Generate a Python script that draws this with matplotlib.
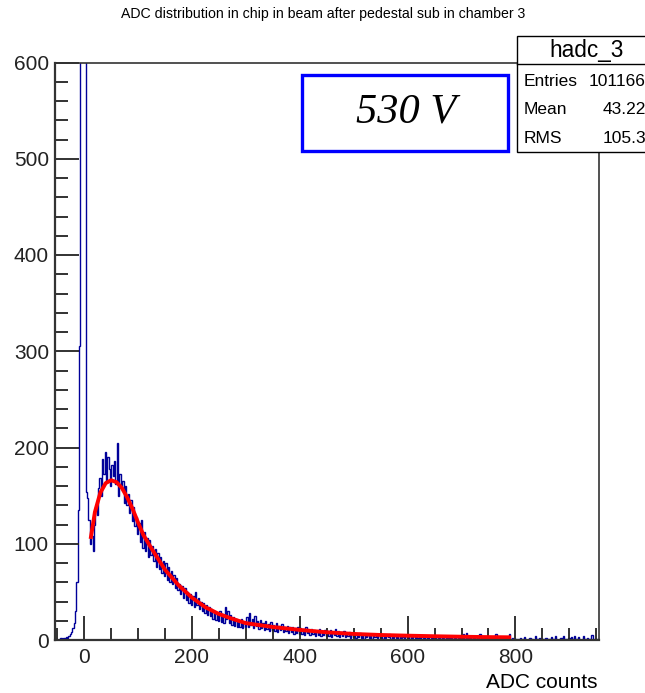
import numpy as np
import matplotlib
matplotlib.use("Agg")
import matplotlib.pyplot as plt
from matplotlib.patches import Rectangle
from matplotlib.lines import Line2D
from matplotlib.ticker import MultipleLocator

# ---- histogram: ADC counts, 2.5-count wide bins starting at -57 ----
bin_start = -57
bin_width = 2.5

# -57 .. 3 : below pedestal and the pedestal peak itself
counts_pedestal = [
    0, 0, 1, 0, 1, 2, 1, 2, 2, 3, 2, 4,
    6, 8, 12, 18,
    30, 60, 135, 305,
    8000, 30000, 30000, 9000,
]
# 3 .. 300.5 : signal peak
counts_signal = [
    154, 148, 125, 100, 108, 92, 120, 138, 130, 158,
    168, 150, 188, 172, 195, 165, 190, 178, 160, 182,
    170, 186, 162, 205, 150, 172, 158, 165, 142, 160,
    140, 152, 132, 145, 124, 138, 118, 128, 110, 122,
    102, 125, 96, 112, 92, 106, 86, 104, 88, 98,
    82, 95, 76, 90, 74, 86, 70, 82, 66, 80,
    62, 76, 60, 72, 58, 68, 54, 64, 52, 58,
    48, 56, 44, 54, 42, 50, 38, 48, 36, 46,
    34, 50, 36, 44, 32, 40, 30, 38, 28, 36,
    26, 34, 25, 32, 22, 30, 21, 28, 20, 30,
    19, 27, 18, 34, 22, 30, 18, 26, 16, 24,
    15, 22, 14, 20, 13, 22, 12, 19, 13,
]
# 300.5 .. 958 : tail
counts_tail = [
    24, 14, 28, 16, 22, 12, 25, 15, 20, 11,
    21, 12, 18, 10, 20, 11, 17, 9, 19, 10,
    16, 9, 18, 8, 15, 10, 17, 8, 14, 9,
    15, 7, 13, 8, 14, 6, 12, 7, 13, 6,
    12, 6, 11, 5, 13, 7, 10, 5, 11, 6,
    10, 4, 9, 5, 11, 4, 8, 5, 10, 4,
    9, 4, 10, 3, 8, 5, 11, 4, 9, 3,
    8, 4, 9, 3, 7, 4, 8, 2, 7, 3,
    6, 2, 5, 3, 7, 2, 5, 1, 6, 3,
    5, 2, 6, 1, 4, 3, 5, 2, 6, 2,
    4, 1, 5, 2, 4, 3, 6, 1, 4, 2,
    5, 2, 4, 1, 5, 2, 3, 1, 4, 2,
    4, 1, 3, 2, 5, 1, 3, 2, 4, 1,
    3, 2, 4, 1, 3, 1, 4, 2, 3, 1,
    3, 1, 2, 4, 1, 3, 2, 1, 3, 2,
    2, 1, 3, 1, 2, 4, 1, 2, 3, 1,
    2, 6, 1, 7, 2, 1, 3, 1, 2, 1,
    3, 1, 2, 6, 1, 2, 1, 3, 1, 2,
    1, 2, 1, 3, 1, 6, 1, 2, 1, 1,
    2, 1, 3, 1, 1, 6, 1, 2, 1, 1,
    1, 0, 1, 2, 1, 1, 3, 1, 0, 1,
    2, 1, 1, 0, 4, 1, 1, 2, 1, 1,
    1, 0, 2, 1, 1, 1, 3, 1, 1, 4,
    1, 0, 1, 2, 1, 4, 1, 1, 0, 2,
    1, 3, 1, 4, 1, 1, 3, 1, 0, 1,
    4, 1, 1, 2, 1, 1, 5, 1, 0, 1,
    1, 0, 0,
]

# ---- Landau fit curve (sampled) ----
fit_x = [12, 20, 30, 40, 50, 60, 70, 80, 90, 100, 110, 125, 150, 175,
         200, 225, 250, 275, 300, 350, 400, 450, 500, 550, 600, 650,
         700, 750, 792]
fit_y = [105, 133, 153, 163, 166, 164, 158, 148, 136, 122, 109, 95, 73, 57,
         44, 34, 27, 22, 17.5, 13.5, 10.5, 8, 6.3, 5.2, 4.5, 3.9,
         3.4, 3.0, 2.8]

title = "ADC distribution in chip in beam after pedestal sub in chamber 3"
x_label = "ADC counts"
hist_name = "hadc_3"
stat_names = ["Entries", "Mean", "RMS"]
stat_values = ["101166", "43.22", "105.3"]
voltage_label = "530 V"

W, H = 645, 693
fig = plt.figure(figsize=(W / 100, H / 100), dpi=100)
plt.rcParams["font.family"] = ["Liberation Sans", "DejaVu Sans"]


def fx(px):
    return px / W


def fy(py):
    return 1 - py / H


ax = fig.add_axes([fx(54.5), fy(640), fx(599) - fx(54.5), fy(62.5) - fy(640)])

counts = counts_pedestal + counts_signal + counts_tail
edges = bin_start + bin_width * np.arange(len(counts) + 1)
ax.stairs(counts, edges, color="#000099", lw=1.0)
ax.plot(fit_x, fit_y, color="#ff0000", lw=2.8, solid_capstyle="butt")

ax.set_xlim(-55, 955)
ax.set_ylim(0, 600)
ax.xaxis.set_major_locator(MultipleLocator(200))
ax.xaxis.set_minor_locator(MultipleLocator(50))
ax.yaxis.set_major_locator(MultipleLocator(100))
ax.yaxis.set_minor_locator(MultipleLocator(20))
ax.tick_params(which="both", direction="in", top=False, right=False,
               labelsize=15, colors="#222222", width=1.3)
ax.tick_params(which="major", length=17, pad=6)
ax.tick_params(which="minor", length=9)
ax.tick_params(axis="y", pad=4)
for side in ["left", "bottom"]:
    ax.spines[side].set_linewidth(1.6)
    ax.spines[side].set_color("#333333")
for side in ["top", "right"]:
    ax.spines[side].set_linewidth(1.2)
    ax.spines[side].set_color("#333333")

fig.text(fx(323), fy(14), title, ha="center", va="center", fontsize=10.2)
fig.text(fx(598), fy(683), x_label, ha="right", va="center", fontsize=15)

# statistics box
fig.add_artist(Rectangle((fx(517), fy(152)), fx(660) - fx(517), fy(36) - fy(152),
                         transform=fig.transFigure, facecolor="white",
                         edgecolor="black", lw=1.0, clip_on=False, zorder=5))
fig.add_artist(Line2D([fx(517), fx(660)], [fy(64), fy(64)],
                      transform=fig.transFigure, color="black", lw=1.0, zorder=6))
fig.text(fx(586.5), fy(50), hist_name, ha="center", va="center", fontsize=16.3, zorder=7)
for i, (name, val) in enumerate(zip(stat_names, stat_values)):
    yy = fy(81.5 + 28.5 * i)
    fig.text(fx(524), yy, name, ha="left", va="center", fontsize=12.5, zorder=7)
    fig.text(fx(646), yy, val, ha="right", va="center", fontsize=12.5, zorder=7)

# voltage label box
fig.add_artist(Rectangle((fx(302), fy(151)), fx(508) - fx(302), fy(75) - fy(151),
                         transform=fig.transFigure, facecolor="white",
                         edgecolor="#0000ff", lw=2.4, zorder=5))
fig.text(fx(406), fy(112), voltage_label, ha="center", va="center",
         fontsize=30.5, family=["Liberation Serif"], style="italic", zorder=7)

fig.savefig("out.png", dpi=100)
